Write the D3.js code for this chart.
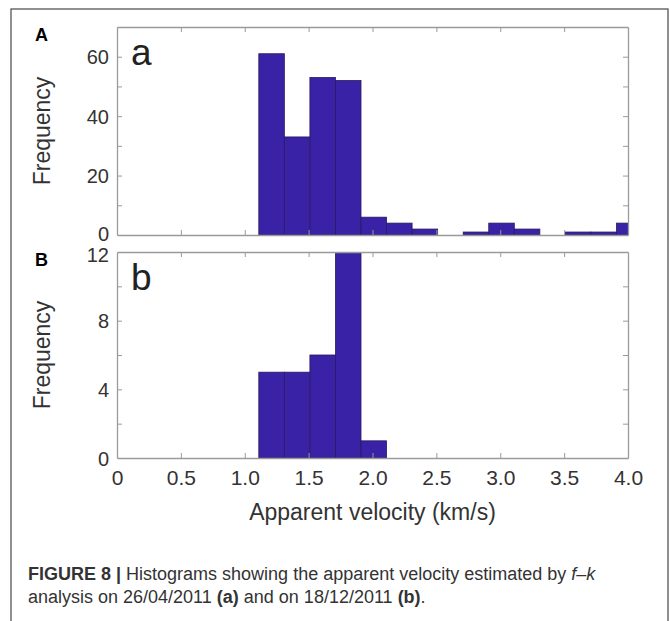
<!DOCTYPE html>
<html><head><meta charset="utf-8">
<script src="https://cdn.jsdelivr.net/npm/d3@7"></script>
<style>
body{margin:0;background:#fff;}
svg{display:block;}
</style></head>
<body>
<svg id="chart" width="670" height="621"></svg>
<script>
// ---- data ----
const binEdges = [1.11,1.31,1.51,1.71,1.91,2.11,2.31,2.51,2.71,2.91,3.11,3.31,3.51,3.71,3.91,4.11];
const countsA = [61,33,53,52,6,4,2,0,1,4,2,0,1,1,4];
const countsB = [5,5,6,12,1,0,0,0,0,0,0,0,0,0,0];
const xTicks = [0,0.5,1.0,1.5,2.0,2.5,3.0,3.5,4.0];
const xTickLabels = ["0","0.5","1.0","1.5","2.0","2.5","3.0","3.5","4.0"];
const yTicksA = [0,10,20,30,40,50,60,70];
const yLabelsA = [0,20,40,60];
const yTicksB = [0,2,4,6,8,10,12];
const yLabelsB = [0,4,8,12];

const svg = d3.select("#chart");
const sans = '"Liberation Sans",Arial,Helvetica,sans-serif';

// outer frame
svg.append("rect").attr("x",11).attr("y",9).attr("width",657).attr("height",640)
  .attr("fill","none").attr("stroke","#555").attr("stroke-width",1.3);

const x = d3.scaleLinear().domain([0,4]).range([117,628]);
const panels = [
  {counts:countsA, top:27, bottom:235, max:70, ticks:yTicksA, labels:yLabelsA, letter:"a", cap:"A", showX:false},
  {counts:countsB, top:252, bottom:458, max:12, ticks:yTicksB, labels:yLabelsB, letter:"b", cap:"B", showX:true}
];

const barColor = "#3a22a6";
const axisColor = "#9a9a9a";
const textColor = "#333";

panels.forEach((p,i)=>{
  const y = d3.scaleLinear().domain([0,p.max]).range([p.bottom,p.top]);
  const g = svg.append("g");
  const clipId = "clip"+i;
  svg.append("clipPath").attr("id",clipId).append("rect")
    .attr("x",x(0)).attr("y",y(p.max)).attr("width",x(4)-x(0)).attr("height",y(0)-y(p.max));

  const bins = p.counts.map((c,k)=>({x0:binEdges[k], x1:binEdges[k+1], c:c})).filter(d=>d.c>0);
  g.append("g").attr("clip-path",`url(#${clipId})`).selectAll("rect").data(bins).join("rect")
    .attr("x",d=>x(d.x0)).attr("width",d=>x(d.x1)-x(d.x0))
    .attr("y",d=>y(d.c)).attr("height",d=>y(0)-y(d.c))
    .attr("fill",barColor).attr("stroke","#2a1a5e").attr("stroke-width",0.8);

  // axes with inward ticks
  const tl = 5;
  const axB = d3.axisBottom(x).tickValues(xTicks).tickSizeInner(-tl).tickSizeOuter(0)
      .tickFormat((d,k)=>p.showX ? xTickLabels[k] : "");
  const axT = d3.axisTop(x).tickValues(xTicks).tickSizeInner(-tl).tickSizeOuter(0).tickFormat("");
  const axL = d3.axisLeft(y).tickValues(p.ticks).tickSizeInner(-tl).tickSizeOuter(0)
      .tickFormat(d=>p.labels.includes(d)? d3.format("d")(d) : "");
  const axR = d3.axisRight(y).tickValues(p.ticks).tickSizeInner(-tl).tickSizeOuter(0).tickFormat("");

  const gb = g.append("g").attr("transform",`translate(0,${p.bottom})`).call(axB);
  const gt = g.append("g").attr("transform",`translate(0,${p.top})`).call(axT);
  const gl = g.append("g").attr("transform",`translate(${x(0)},0)`).call(axL);
  const gr = g.append("g").attr("transform",`translate(${x(4)},0)`).call(axR);
  [gb,gt,gl,gr].forEach(a=>{
    a.select(".domain").attr("stroke",axisColor).attr("stroke-width",1.3);
    a.selectAll(".tick line").attr("stroke",axisColor).attr("stroke-width",1);
    a.selectAll(".tick text").attr("fill",textColor).attr("font-size",21).attr("font-family",sans);
  });
  gb.selectAll(".tick text").attr("dy","0.71em").attr("y",12);
  gl.selectAll(".tick text").attr("x",-8).attr("dy","0.36em").attr("font-size",20);
  // nudge crowded labels at the panel junction
  if(i===0) gl.selectAll(".tick").filter(d=>d===0).select("text").attr("y",-2);
  if(i===1) gl.selectAll(".tick").filter(d=>d===p.max).select("text").attr("y",2);
  // remove tick lines at box corners
  [gb,gt].forEach(a=>a.selectAll(".tick").filter(d=>d===0||d===4).select("line").remove());
  [gl,gr].forEach(a=>a.selectAll(".tick").filter(d=>d===0||d===p.max).select("line").remove());

  // panel letters
  g.append("text").attr("x",131).attr("y",p.top+38).text(p.letter)
    .attr("font-family",sans).attr("font-size",37).attr("fill","#222");
  g.append("text").attr("x",35).attr("y",p.top+14).text(p.cap)
    .attr("font-family",sans).attr("font-weight","bold").attr("font-size",18).attr("fill","#000");
  // y label
  g.append("text").attr("transform",`translate(50,${(p.top+p.bottom)/2}) rotate(-90)`)
    .attr("text-anchor","middle").text("Frequency")
    .attr("font-family",sans).attr("font-size",23).attr("fill",textColor);
});

svg.append("text").attr("x",(x(0)+x(4))/2).attr("y",520).attr("text-anchor","middle")
  .text("Apparent velocity (km/s)").attr("font-family",sans).attr("font-size",23).attr("fill",textColor);

// caption
const cap1 = svg.append("text").attr("x",28).attr("y",580).attr("font-family",sans)
  .attr("font-size",18).attr("fill","#333");
cap1.append("tspan").attr("font-weight","bold").text("FIGURE 8 | ");
cap1.append("tspan").text("Histograms showing the apparent velocity estimated by ");
cap1.append("tspan").attr("font-style","italic").text("f");
cap1.append("tspan").text("–");
cap1.append("tspan").attr("font-style","italic").text("k");
const cap2 = svg.append("text").attr("x",28).attr("y",603).attr("font-family",sans)
  .attr("font-size",18).attr("fill","#333");
cap2.append("tspan").text("analysis on 26/04/2011 ");
cap2.append("tspan").attr("font-weight","bold").text("(a)");
cap2.append("tspan").text(" and on 18/12/2011 ");
cap2.append("tspan").attr("font-weight","bold").text("(b)");
cap2.append("tspan").text(".");
</script>
</body></html>
